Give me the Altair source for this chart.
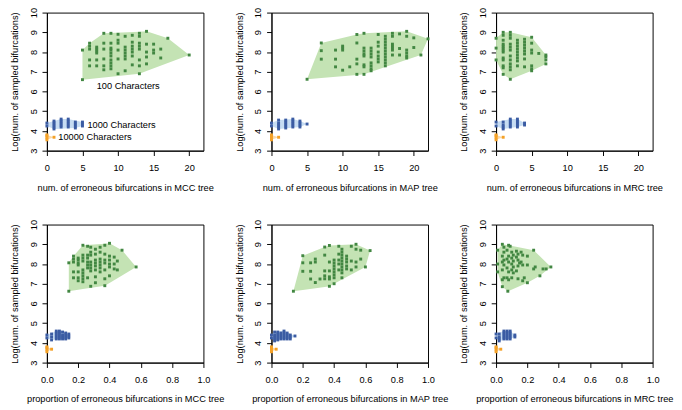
import altair as alt
import pandas as pd

# ------------------------------------------------------------------ data
GROUPS = ["100 Characters", "1000 Characters", "10000 Characters"]
POINT_COLORS = ["#428742", "#3b5ca3", "#f4a127"]
FILL_COLORS = ["#c4e3b4", "#c6dcf2", "#fbd9a8"]

y_ticks = [3, 4, 5, 6, 7, 8, 9, 10]
count_ticks = [0, 5, 10, 15, 20]
prop_ticks = [0.0, 0.2, 0.4, 0.6, 0.8, 1.0]

x_titles = [
    "num. of erroneous bifurcations in MCC tree",
    "num. of erroneous bifurcations in MAP tree",
    "num. of erroneous bifurcations in MRC tree",
    "proportion of erroneous bifurcations in MCC tree",
    "proportion of erroneous bifurcations in MAP tree",
    "proportion of erroneous bifurcations in MRC tree",
]
y_title = "Log(num. of sampled bifurcations)"

label_text = ["100 Characters", "1000 Characters", "10000 Characters"]
label_x = [7.0, 5.7, 1.6]
label_y = [6.27, 4.32, 3.67]

# --- MCC, counts
mcc_n_100 = [(5, 8.1), (5, 6.6),
             (6, 8.45), (6, 8.3), (6, 8.15), (6, 7.6), (6, 7.3),
             (7, 8.25), (7, 8.15), (7, 8.05), (7, 7.95), (7, 7.6), (7, 7.3),
             (8, 8.95), (8, 8.45), (8, 8.15), (8, 7.65), (8, 7.3), (8, 7.1),
             (9, 8.95), (9, 8.45), (9, 8.2), (9, 8.1), (9, 7.95), (9, 7.8), (9, 7.6), (9, 7.45), (9, 7.3), (9, 7.15),
             (10, 8.9), (10, 8.6), (10, 8.45), (10, 8.1), (10, 7.65), (10, 6.9),
             (11, 8.8), (11, 8.25), (11, 8.1), (11, 7.95), (11, 7.8), (11, 7.65), (11, 7.05),
             (12, 8.85), (12, 8.5), (12, 8.3), (12, 8.15), (12, 8.0), (12, 7.8), (12, 7.35),
             (13, 8.95), (13, 8.8), (13, 8.45), (13, 8.3), (13, 8.15), (13, 7.6), (13, 7.3), (13, 6.9),
             (14, 9.05), (14, 8.4), (14, 8.0), (14, 7.75), (14, 7.4),
             (15, 8.4), (15, 8.1), (15, 7.95),
             (16, 8.15), (16, 7.7), (17, 8.7), (20, 7.85)]
mcc_n_1000 = [(0, 4.25), (0, 4.4), (1, 4.1), (1, 4.2), (1, 4.3), (1, 4.4), (1, 4.5),
              (2, 4.2), (2, 4.3), (2, 4.4), (2, 4.5), (2, 4.6),
              (3, 4.2), (3, 4.3), (3, 4.4), (3, 4.5), (3, 4.6),
              (4, 4.15), (4, 4.25), (4, 4.35), (4, 4.45),
              (5, 4.25), (5, 4.35), (5, 4.45)]
mcc_n_10000 = [(0, 3.55), (0, 3.65), (0, 3.75), (0, 3.8), (1, 3.68)]

# --- MAP, counts
map_n_100 = [(5, 6.62),
             (7, 8.46), (7, 8.07), (7, 7.64),
             (9, 8.1), (9, 7.64), (9, 7.25),
             (10, 8.3), (10, 8.2), (10, 8.1), (10, 7.08), (11, 7.25),
             (12, 8.89), (12, 8.46), (12, 7.64), (12, 7.4), (12, 6.87),
             (13, 8.95), (13, 8.2), (13, 8.05), (13, 7.9), (13, 7.8), (13, 7.35), (13, 7.25), (13, 6.87),
             (14, 8.2), (14, 8.05), (14, 7.9), (14, 7.75), (14, 7.45), (14, 7.3), (14, 7.15), (14, 7.05),
             (15, 8.89), (15, 8.5), (15, 8.3), (15, 8.0), (15, 7.8), (15, 7.65), (15, 7.5),
             (16, 8.8), (16, 8.65), (16, 8.5), (16, 8.35), (16, 8.2), (16, 8.05), (16, 7.9), (16, 7.75),
             (16, 7.6), (16, 7.45), (16, 7.3),
             (17, 8.95), (17, 8.8), (17, 8.4), (17, 8.3), (17, 8.2), (17, 8.1), (17, 7.85),
             (18, 8.92), (18, 8.18), (18, 7.85),
             (19, 9.05), (19, 8.8), (19, 8.1), (19, 7.95), (19, 7.8), (19, 7.7),
             (20, 8.72), (20, 8.23), (21, 7.85), (22, 8.67)]
map_n_1000 = [(0, 4.25), (0, 4.4), (1, 4.1), (1, 4.2), (1, 4.3), (1, 4.4), (1, 4.55),
              (2, 4.15), (2, 4.25), (2, 4.35), (2, 4.45), (2, 4.55),
              (3, 4.2), (3, 4.3), (3, 4.4), (3, 4.5), (3, 4.6),
              (4, 4.2), (4, 4.3), (4, 4.4), (4, 4.5), (5, 4.35)]
map_n_10000 = [(0, 3.55), (0, 3.65), (0, 3.75), (0, 3.8), (1, 3.68)]

# --- MRC, counts
mrc_n_100 = [(0, 8.7), (0, 8.2), (0, 7.6),
             (1, 9.0), (1, 8.85), (1, 8.6), (1, 8.4), (1, 8.3), (1, 8.2), (1, 8.1), (1, 8.0),
             (1, 7.7), (1, 7.6), (1, 7.3), (1, 7.2), (1, 6.87),
             (2, 9.0), (2, 8.85), (2, 8.7), (2, 8.4), (2, 8.25), (2, 8.1), (2, 7.8), (2, 7.6),
             (2, 7.4), (2, 7.25), (2, 7.1), (2, 6.62),
             (3, 8.6), (3, 8.45), (3, 8.3), (3, 8.15), (3, 8.0), (3, 7.85), (3, 7.7), (3, 7.55), (3, 7.3),
             (4, 8.65), (4, 8.5), (4, 8.35), (4, 8.2), (4, 8.05), (4, 7.9), (4, 7.65), (4, 7.25),
             (5, 8.75), (5, 8.45), (5, 8.1), (5, 7.95), (5, 7.3), (5, 7.15), (5, 7.05),
             (6, 7.93), (7, 7.85), (7, 7.75), (7, 7.6), (7, 7.4)]
mrc_n_1000 = [(0, 4.25), (0, 4.45), (1, 4.1), (1, 4.2), (1, 4.3), (1, 4.45),
              (2, 4.2), (2, 4.3), (2, 4.4), (2, 4.5), (2, 4.6),
              (3, 4.2), (3, 4.3), (3, 4.4), (3, 4.5), (3, 4.6), (4, 4.3), (4, 4.4)]
mrc_n_10000 = [(0, 3.55), (0, 3.65), (0, 3.75), (0, 3.8), (1, 3.68)]

# --- MCC, proportions
mcc_p_100 = [(0.14, 8.06), (0.14, 6.62),
             (0.17, 8.4), (0.17, 8.25), (0.17, 8.1), (0.17, 7.6), (0.17, 7.3),
             (0.20, 8.3), (0.20, 8.2), (0.20, 8.05), (0.20, 7.95), (0.20, 7.6), (0.20, 7.3), (0.20, 7.15),
             (0.23, 8.95), (0.23, 8.45), (0.23, 8.3), (0.23, 8.15), (0.23, 7.7), (0.23, 7.55),
             (0.23, 7.4), (0.23, 7.25), (0.23, 7.1),
             (0.26, 8.9), (0.26, 8.45), (0.26, 8.3), (0.26, 8.1), (0.26, 7.95), (0.26, 7.8), (0.26, 7.3),
             (0.28, 8.85), (0.28, 8.6), (0.28, 8.45), (0.28, 8.1), (0.28, 7.95), (0.28, 7.8), (0.28, 7.65), (0.28, 6.87),
             (0.31, 8.75), (0.31, 8.5), (0.31, 8.2), (0.31, 8.05), (0.31, 7.9), (0.31, 7.7), (0.31, 7.35), (0.31, 7.05),
             (0.34, 8.85), (0.34, 8.6), (0.34, 8.25), (0.34, 8.1), (0.34, 7.95), (0.34, 7.8), (0.34, 7.6),
             (0.37, 8.95), (0.37, 8.5), (0.37, 8.2), (0.37, 8.05), (0.37, 7.7), (0.37, 7.25), (0.37, 6.9),
             (0.40, 9.05), (0.40, 8.4), (0.40, 8.2), (0.40, 8.0), (0.40, 7.85), (0.40, 7.4),
             (0.43, 8.35), (0.43, 8.0), (0.43, 7.75), (0.45, 8.15), (0.45, 7.7),
             (0.48, 8.7), (0.57, 7.85)]
mcc_p_1000 = [(0.0, 4.25), (0.0, 4.4), (0.03, 4.15), (0.03, 4.3), (0.03, 4.45),
              (0.06, 4.2), (0.06, 4.3), (0.06, 4.4), (0.06, 4.5), (0.06, 4.6),
              (0.08, 4.2), (0.08, 4.3), (0.08, 4.4), (0.08, 4.5), (0.08, 4.6),
              (0.10, 4.2), (0.10, 4.3), (0.10, 4.4), (0.10, 4.55),
              (0.12, 4.2), (0.12, 4.3), (0.12, 4.4), (0.12, 4.5),
              (0.14, 4.25), (0.14, 4.35), (0.14, 4.45)]
mcc_p_10000 = [(0.0, 3.55), (0.0, 3.65), (0.0, 3.75), (0.0, 3.8), (0.03, 3.68)]

# --- MAP, proportions
map_p_100 = [(0.14, 6.62),
             (0.20, 8.42), (0.20, 8.06), (0.20, 7.63),
             (0.25, 8.06), (0.25, 7.63), (0.25, 7.24),
             (0.28, 8.25), (0.28, 8.1), (0.28, 7.06), (0.31, 7.24),
             (0.34, 8.86), (0.34, 8.45), (0.34, 7.65), (0.34, 7.4), (0.34, 7.25),
             (0.37, 8.94), (0.37, 8.1), (0.37, 7.65), (0.37, 7.35), (0.37, 7.24), (0.37, 6.87),
             (0.40, 8.2), (0.40, 8.05), (0.40, 7.9), (0.40, 7.75), (0.40, 7.6), (0.40, 7.45), (0.40, 7.3), (0.40, 7.0),
             (0.43, 8.9), (0.43, 8.5), (0.43, 8.2), (0.43, 8.0), (0.43, 7.7),
             (0.45, 8.75), (0.45, 8.6), (0.45, 8.45), (0.45, 8.3), (0.45, 8.15), (0.45, 8.0), (0.45, 7.85),
             (0.45, 7.7), (0.45, 7.55), (0.45, 7.3),
             (0.48, 8.4), (0.48, 8.25), (0.48, 8.1), (0.48, 7.9), (0.48, 7.75),
             (0.51, 8.9), (0.51, 8.15), (0.51, 7.7),
             (0.54, 9.0), (0.54, 8.75), (0.54, 8.1), (0.54, 7.85),
             (0.57, 8.7), (0.57, 8.25), (0.60, 7.85), (0.63, 8.68)]
map_p_1000 = [(0.0, 4.25), (0.0, 4.4), (0.02, 4.1), (0.02, 4.2), (0.02, 4.3), (0.02, 4.4), (0.02, 4.55),
              (0.04, 4.15), (0.04, 4.25), (0.04, 4.35), (0.04, 4.45), (0.04, 4.55),
              (0.06, 4.2), (0.06, 4.3), (0.06, 4.4), (0.06, 4.5),
              (0.08, 4.2), (0.08, 4.3), (0.08, 4.4), (0.08, 4.5), (0.08, 4.6),
              (0.10, 4.2), (0.10, 4.3), (0.10, 4.4), (0.10, 4.5),
              (0.12, 4.2), (0.12, 4.3), (0.12, 4.4), (0.15, 4.35)]
map_p_10000 = [(0.0, 3.55), (0.0, 3.65), (0.0, 3.75), (0.0, 3.8), (0.03, 3.68)]

# --- MRC, proportions
mrc_p_100 = [(0.01, 8.7), (0.01, 8.0), (0.01, 7.6),
             (0.04, 9.0), (0.05, 8.85), (0.05, 8.6), (0.04, 8.4), (0.05, 8.2), (0.04, 8.1), (0.05, 7.95),
             (0.04, 7.7), (0.05, 7.3), (0.04, 7.2), (0.04, 6.85),
             (0.08, 8.95), (0.09, 8.9), (0.07, 8.7), (0.08, 8.4), (0.07, 8.25), (0.08, 8.1), (0.07, 7.8),
             (0.08, 7.6), (0.07, 7.3), (0.08, 7.2), (0.075, 6.62),
             (0.10, 8.6), (0.11, 8.45), (0.10, 8.3), (0.11, 8.15), (0.10, 8.0), (0.11, 7.85), (0.10, 7.7),
             (0.11, 7.55), (0.10, 7.3),
             (0.13, 8.65), (0.14, 8.5), (0.13, 8.35), (0.14, 8.2), (0.15, 8.05), (0.14, 7.9), (0.13, 7.65), (0.14, 7.25),
             (0.16, 8.6), (0.17, 8.45), (0.16, 8.1), (0.17, 7.95), (0.18, 7.3), (0.17, 7.15),
             (0.20, 8.4), (0.20, 7.95), (0.20, 7.05),
             (0.24, 8.7), (0.25, 7.85), (0.24, 7.75),
             (0.28, 7.4), (0.30, 7.75), (0.32, 7.75), (0.35, 7.85)]
mrc_p_1000 = [(0.0, 4.25), (0.0, 4.45), (0.02, 4.1), (0.02, 4.2), (0.02, 4.3), (0.02, 4.45),
              (0.05, 4.2), (0.05, 4.3), (0.05, 4.4), (0.05, 4.5), (0.05, 4.6),
              (0.07, 4.2), (0.07, 4.3), (0.07, 4.4), (0.07, 4.5), (0.07, 4.6),
              (0.09, 4.2), (0.09, 4.3), (0.09, 4.4), (0.09, 4.5), (0.09, 4.6),
              (0.12, 4.3), (0.12, 4.4)]
mrc_p_10000 = [(0.0, 3.55), (0.0, 3.65), (0.0, 3.75), (0.0, 3.8), (0.03, 3.68)]

# ------------------------------------------------------------------ helpers
FONT = "Liberation Sans"
FS = 9.5


def convex_hull(pts):
    pts = sorted(set(pts))
    if len(pts) <= 2:
        return pts

    def cross(o, a, b):
        return (a[0] - o[0]) * (b[1] - o[1]) - (a[1] - o[1]) * (b[0] - o[0])

    lower, upper = [], []
    for p in pts:
        while len(lower) >= 2 and cross(lower[-2], lower[-1], p) <= 0:
            lower.pop()
        lower.append(p)
    for p in reversed(pts):
        while len(upper) >= 2 and cross(upper[-2], upper[-1], p) <= 0:
            upper.pop()
        upper.append(p)
    return lower[:-1] + upper[:-1]


def hull_band(pts):
    """Convex hull expressed as top / bottom boundary for an area mark."""
    poly = convex_hull(pts)
    n = len(poly)
    xs = sorted(set(p[0] for p in poly))
    rows = []
    for x in xs:
        ys = []
        for i in range(n):
            p, q = poly[i], poly[(i + 1) % n]
            lo, hi = min(p[0], q[0]), max(p[0], q[0])
            if lo - 1e-12 <= x <= hi + 1e-12:
                if abs(q[0] - p[0]) < 1e-12:
                    ys += [p[1], q[1]]
                else:
                    t = (x - p[0]) / (q[0] - p[0])
                    ys.append(p[1] + t * (q[1] - p[1]))
        rows.append({"x": x, "top": max(ys), "bottom": min(ys)})
    return rows


def panel(groups, xdom, xvals, xfmt, xtitle, annotate=False):
    xs = alt.Scale(domain=xdom, nice=False, zero=False)
    ys = alt.Scale(domain=[3, 10], nice=False, zero=False)
    xaxis = alt.Axis(values=xvals, format=xfmt, title=xtitle)
    yaxis = alt.Axis(values=y_ticks, format="d", title=y_title)
    layers = []
    for pts, fc in zip(groups, FILL_COLORS):
        band = pd.DataFrame(hull_band(pts))
        layers.append(
            alt.Chart(band).mark_area(color=fc, opacity=1, interpolate="linear").encode(
                x=alt.X("x:Q", scale=xs, axis=xaxis),
                y=alt.Y("top:Q", scale=ys, axis=yaxis),
                y2="bottom:Q",
            )
        )
    rows = []
    for name, pts in zip(GROUPS, groups):
        for x, y in pts:
            rows.append({"x": x, "y": y, "group": name})
    pdf = pd.DataFrame(rows)
    layers.append(
        alt.Chart(pdf).mark_square(size=9, opacity=1).encode(
            x=alt.X("x:Q", scale=xs, axis=xaxis),
            y=alt.Y("y:Q", scale=ys, axis=yaxis),
            color=alt.Color("group:N", scale=alt.Scale(domain=GROUPS, range=POINT_COLORS), legend=None),
        )
    )
    if annotate:
        tdf = pd.DataFrame({"x": label_x, "y": label_y, "t": label_text})
        layers.append(
            alt.Chart(tdf).mark_text(align="left", baseline="middle", font=FONT, fontSize=FS, color="black").encode(
                x=alt.X("x:Q", scale=xs, axis=xaxis),
                y=alt.Y("y:Q", scale=ys, axis=yaxis),
                text="t:N",
            )
        )
    return alt.layer(*layers).properties(width=161, height=142)


panels = [
    panel([mcc_n_100, mcc_n_1000, mcc_n_10000], [0, 22], count_ticks, "d", x_titles[0], annotate=True),
    panel([map_n_100, map_n_1000, map_n_10000], [0, 22], count_ticks, "d", x_titles[1]),
    panel([mrc_n_100, mrc_n_1000, mrc_n_10000], [0, 22], count_ticks, "d", x_titles[2]),
    panel([mcc_p_100, mcc_p_1000, mcc_p_10000], [0, 1], prop_ticks, ".1f", x_titles[3]),
    panel([map_p_100, map_p_1000, map_p_10000], [0, 1], prop_ticks, ".1f", x_titles[4]),
    panel([mrc_p_100, mrc_p_1000, mrc_p_10000], [0, 1], prop_ticks, ".1f", x_titles[5]),
]

chart = (
    alt.concat(*panels, columns=3, spacing={"row": 76, "column": 70}, bounds="flush")
    .properties(padding={"left": 1, "top": -7, "right": 0, "bottom": 0})
    .configure(font=FONT)
    .configure_view(stroke="black", strokeWidth=1)
    .configure_axis(
        grid=False,
        domainColor="black",
        tickColor="black",
        tickSize=5,
        labelFont=FONT,
        labelFontSize=FS,
        labelColor="black",
        titleFont=FONT,
        titleFontSize=FS,
        titleFontWeight="normal",
        titleColor="black",
        labelFlush=False,
        labelOverlap=False,
    )
    .configure_axisX(labelPadding=7, titlePadding=11)
    .configure_axisY(labelAngle=270, labelAlign="center", labelBaseline="bottom",
                     labelPadding=4, titlePadding=9)
)

chart.save("out.html", embed_options={"renderer": "svg", "actions": False})
